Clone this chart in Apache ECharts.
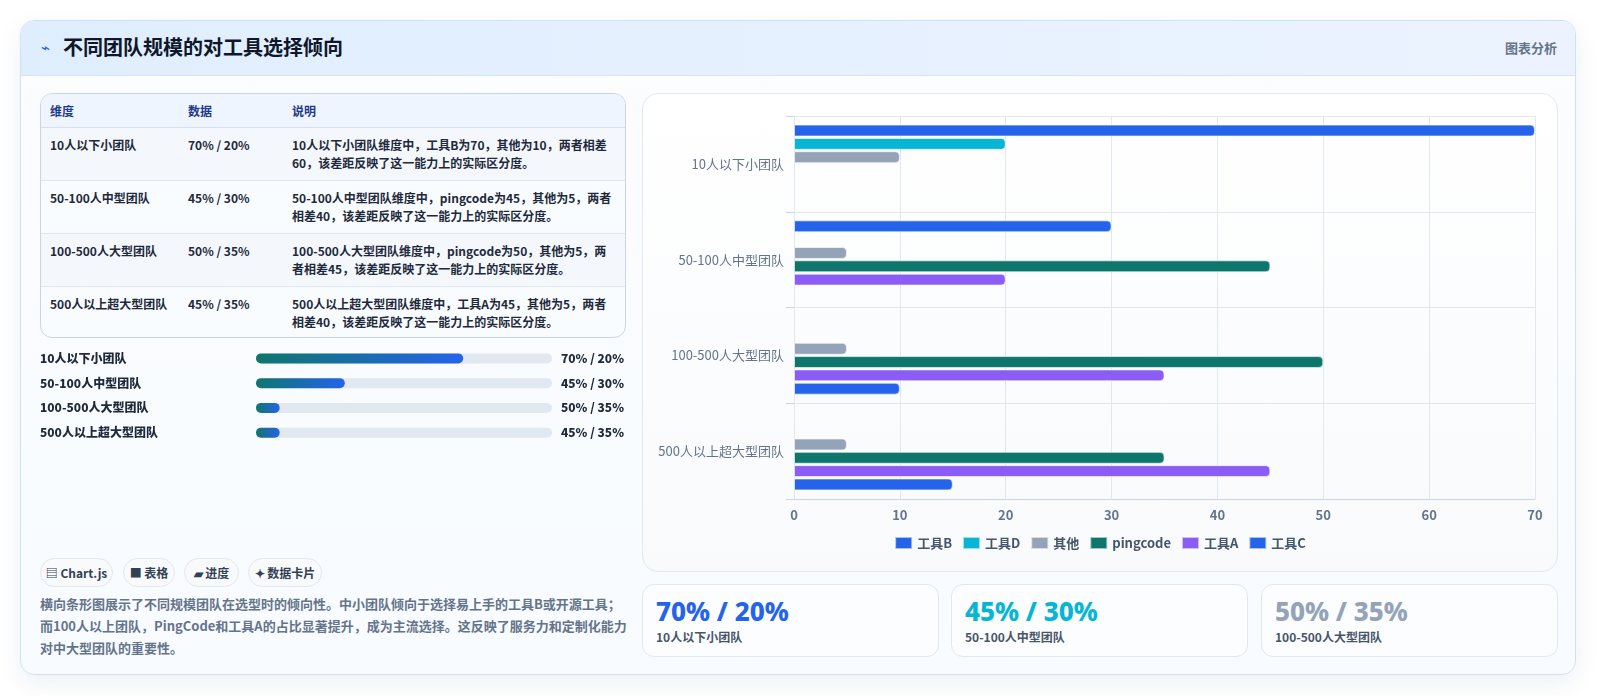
<!DOCTYPE html>
<html>
<head>
<meta charset="utf-8">
<script src="https://cdn.jsdelivr.net/npm/echarts@6/dist/echarts.min.js"></script>
<style>
* { box-sizing: border-box; }
body { margin: 0; width: 1597px; height: 696px; background: #ffffff; font-family: "Noto Sans CJK SC", "Noto Sans", sans-serif; overflow: hidden; }
#card { position: absolute; left: 20px; top: 20px; width: 1556px; height: 655px; border: 1px solid #cfe2f3; border-radius: 14px; background: linear-gradient(180deg, #fbfdff, #f8fbff); box-shadow: 0 8px 24px rgba(30, 64, 120, 0.08); overflow: hidden; }
#head { position: absolute; left: 0; top: 0; right: 0; height: 55px; background: linear-gradient(90deg, #dfeefe, #ecf3ff); border-bottom: 1px solid #d7e5f4; }
#head .icon { position: absolute; left: 20px; top: 15px; font-size: 15px; color: #2563eb; }
#head .title { position: absolute; left: 42px; top: 11px; font-size: 20px; font-weight: 700; color: #0f172a; }
#head .tag { position: absolute; right: 18px; top: 17px; font-size: 13px; font-weight: 700; color: #64748b; }
#tbl { position: absolute; left: 19px; top: 72px; width: 586px; height: 245px; border: 1px solid #cbd5e1; border-radius: 12px; overflow: hidden; background: #f9fcff; }
#tbl table { width: 100%; border-collapse: collapse; font-size: 12px; }
#tbl th { height: 33px; text-align: left; font-weight: 700; color: #1e3a8a; background: #eef5ff; border-bottom: 1px solid #d6e0ec; padding: 0 0 0 9px; }
#tbl td { height: 53px; vertical-align: top; padding: 8px 0 0 9px; font-weight: 600; color: #1e293b; line-height: 18px; border-bottom: 1px solid #e2e8f0; }
#tbl tr:last-child td { border-bottom: none; }
#tbl tr:nth-child(even) td { background: #f4f8fd; }
#prog { position: absolute; left: 16px; top: 325px; width: 590px; height: 99px; }
#chips { position: absolute; left: 19px; top: 537px; height: 29px; }
.chip { position: absolute; top: 0; height: 29px; line-height: 27px; border: 1px solid #e2e8f0; border-radius: 15px; background: #f8fafc; font-size: 12px; font-weight: 700; color: #334155; text-align: center; }
#desc { position: absolute; left: 19px; top: 572px; width: 590px; font-size: 13px; line-height: 22px; font-weight: 600; color: #64748b; }
#chartCard { position: absolute; left: 621px; top: 72px; width: 916px; height: 479px; border: 1px solid #e2e8f0; border-radius: 16px; background: linear-gradient(180deg, #ffffff, #f8fafc); }
#main { position: absolute; left: 0; top: 0; width: 914px; height: 477px; }
.kpi { position: absolute; top: 563px; width: 297px; height: 73px; border: 1px solid #e2e8f0; border-radius: 12px; background: #fbfdff; }
.kpi .num { position: absolute; left: 13px; top: 8px; font-size: 26px; font-weight: 800; font-family: "Noto Sans", "Open Sans", sans-serif; }
.kpi .lab { position: absolute; left: 13px; top: 43px; font-size: 12px; font-weight: 700; color: #475569; }
</style>
</head>
<body>
<div id="card">
  <div id="head">
    <span class="icon">⌁</span>
    <span class="title">不同团队规模的对工具选择倾向</span>
    <span class="tag">图表分析</span>
  </div>
  <div id="tbl"></div>
  <div id="prog"></div>
  <div id="chips"></div>
  <div id="desc">横向条形图展示了不同规模团队在选型时的倾向性。中小团队倾向于选择易上手的工具B或开源工具；而100人以上团队，PingCode和工具A的占比显著提升，成为主流选择。这反映了服务力和定制化能力对中大型团队的重要性。</div>
  <div id="chartCard"><div id="main"></div></div>
  <div id="kpis"></div>
</div>
<script>
// 维度 / 类目
var teams = ['10人以下小团队', '50-100人中型团队', '100-500人大型团队', '500人以上超大型团队'];
// 各工具数值（空缺为 null）
var toolB = [70, 30, null, null];
var toolD = [20, null, null, null];
var others = [10, 5, 5, 5];
var pingcode = [null, 45, 50, 35];
var toolA = [null, 20, 35, 45];
var toolC = [null, null, 10, 15];
var seriesNames = ['工具B', '工具D', '其他', 'pingcode', '工具A', '工具C'];
var seriesColors = ['#2563eb', '#06b6d4', '#94a3b8', '#0f766e', '#8b5cf6', '#2563eb'];
var xTicks = [0, 10, 20, 30, 40, 50, 60, 70];
// 表格 / 进度 / 卡片
var dataText = ['70% / 20%', '45% / 30%', '50% / 35%', '45% / 35%'];
var notes = [
	'10人以下小团队维度中，工具B为70，其他为10，两者相差60，该差距反映了这一能力上的实际区分度。',
	'50-100人中型团队维度中，pingcode为45，其他为5，两者相差40，该差距反映了这一能力上的实际区分度。',
	'100-500人大型团队维度中，pingcode为50，其他为5，两者相差45，该差距反映了这一能力上的实际区分度。',
	'500人以上超大型团队维度中，工具A为45，其他为5，两者相差40，该差距反映了这一能力上的实际区分度。'
];
var progress = [70, 30, 8, 8];
var chips = ['▤ Chart.js', '■ 表格', '▰ 进度', '✦ 数据卡片'];
var kpiColors = ['#2563eb', '#06b6d4', '#94a3b8'];

var FONT = '"Noto Sans CJK SC", "Noto Sans", sans-serif';

// 表格
var html = '<table><tr><th style="width:138px">维度</th><th style="width:104px">数据</th><th>说明</th></tr>';
for (var i = 0; i < teams.length; i++) {
	html += '<tr><td>' + teams[i] + '</td><td>' + dataText[i] + '</td><td style="padding-right:12px">' + notes[i] + '</td></tr>';
}
document.getElementById('tbl').innerHTML = html + '</table>';

// 标签
var chipLeft = [0, 83, 144, 208];
var chipWidth = [73, 52, 55, 74];
var ch = '';
for (var i = 0; i < chips.length; i++) {
	ch += '<div class="chip" style="left:' + chipLeft[i] + 'px;width:' + chipWidth[i] + 'px">' + chips[i] + '</div>';
}
document.getElementById('chips').innerHTML = ch;

// 数据卡片
var kl = [621, 930, 1240];
var kh = '';
for (var i = 0; i < 3; i++) {
	kh += '<div class="kpi" style="left:' + kl[i] + 'px"><div class="num" style="color:' + kpiColors[i] + '">' + dataText[i] + '</div><div class="lab">' + teams[i] + '</div></div>';
}
document.getElementById('kpis').innerHTML = kh;

// 进度条
var progChart = echarts.init(document.getElementById('prog'));
progChart.setOption({
	animation: false,
	grid: { left: 216, right: 73, top: 0, bottom: 0 },
	xAxis: { type: 'value', min: 0, max: 100, show: false },
	yAxis: [
		{
			type: 'category', data: teams, inverse: true,
			axisLine: { show: false }, axisTick: { show: false },
			axisLabel: { align: 'left', margin: 216, color: '#1e293b', fontSize: 12, fontWeight: 800, fontFamily: FONT }
		},
		{
			type: 'category', data: dataText, inverse: true, position: 'right',
			axisLine: { show: false }, axisTick: { show: false },
			axisLabel: { align: 'left', margin: 9, color: '#1e293b', fontSize: 12, fontWeight: 800, fontFamily: FONT }
		}
	],
	series: [{
		type: 'bar',
		data: progress,
		barWidth: 10,
		showBackground: true,
		backgroundStyle: { color: '#e2e8f0', borderRadius: 5 },
		itemStyle: {
			borderRadius: 5,
			color: new echarts.graphic.LinearGradient(0, 0, 1, 0, [
				{ offset: 0, color: '#0f766e' },
				{ offset: 1, color: '#2563eb' }
			])
		}
	}]
});

// 主图
var myChart = echarts.init(document.getElementById('main'));
var seriesData = [toolB, toolD, others, pingcode, toolA, toolC];
var series = [];
for (var i = 0; i < seriesNames.length; i++) {
	series.push({
		name: seriesNames[i],
		type: 'bar',
		data: seriesData[i],
		barGap: '12%',
		barCategoryGap: '18%',
		itemStyle: {
			color: seriesColors[i],
			borderRadius: [0, 4, 4, 0],
			borderColor: 'rgba(255,255,255,0.6)',
			borderWidth: 1
		}
	});
}
option = {
	animation: false,
	textStyle: { fontFamily: FONT },
	grid: { left: 151, right: 22, top: 22, bottom: 72 },
	legend: {
		data: seriesNames,
		bottom: 16,
		left: 'center',
		itemWidth: 17,
		itemHeight: 12,
		itemGap: 10,
		icon: 'rect',
		textStyle: { color: '#475569', fontSize: 13, fontWeight: 600, fontFamily: FONT }
	},
	xAxis: {
		type: 'value',
		min: xTicks[0],
		max: xTicks[xTicks.length - 1],
		interval: 10,
		axisLine: { show: true, lineStyle: { color: '#cbd5e1' } },
		axisTick: { show: false },
		splitLine: { lineStyle: { color: '#e2e8f0' } },
		axisLabel: { color: '#64748b', fontSize: 13, fontWeight: 700, margin: 10 }
	},
	yAxis: {
		type: 'category',
		data: teams,
		inverse: true,
		axisLine: { show: true, lineStyle: { color: '#e2e8f0' } },
		axisTick: { show: true, length: 8, lineStyle: { color: '#cbd5e1' } },
		splitLine: { show: true, lineStyle: { color: '#e2e8f0' } },
		axisLabel: { color: '#64748b', fontSize: 13, margin: 10 }
	},
	series: series
};
myChart.setOption(option, true);
</script>
</body>
</html>
